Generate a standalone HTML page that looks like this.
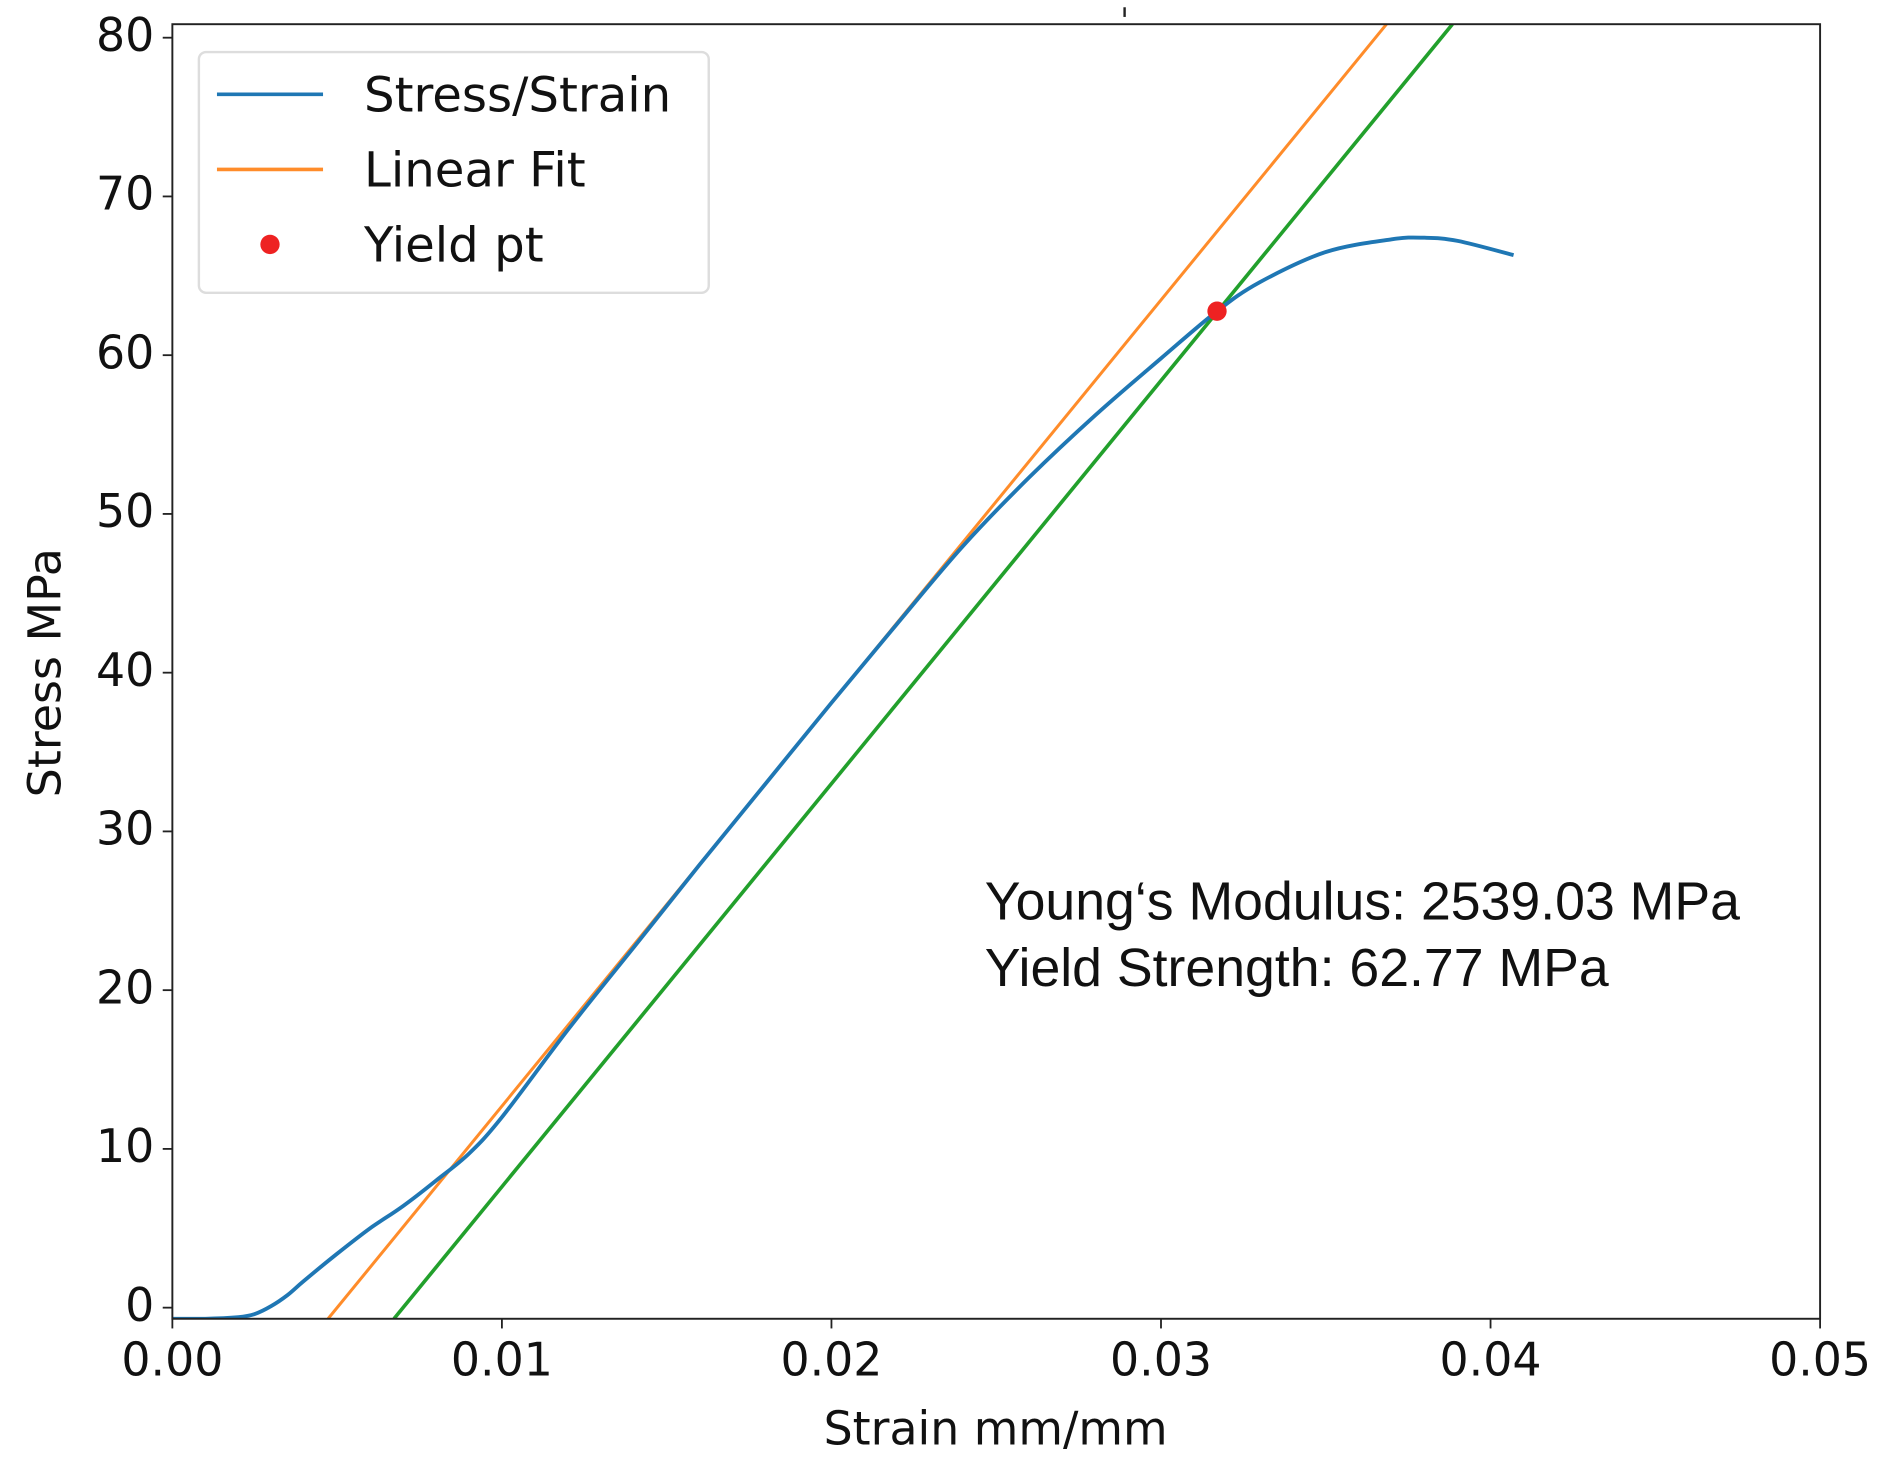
<!DOCTYPE html>
<html><head><meta charset="utf-8"><style>
html,body{margin:0;padding:0;background:#fff;}
svg{display:block;}
text{font-family:"DejaVu Sans","Liberation Sans",sans-serif;fill:#111;}
</style></head><body>
<svg id="chart" width="1890" height="1470" viewBox="0 0 1568 1215" preserveAspectRatio="none" xmlns="http://www.w3.org/2000/svg">
<g id="plot"></g>
</svg>
<script>
const strain = [0,0.001,0.002,0.0025,0.003,0.0035,0.004,0.005,0.006,0.007,0.008,0.009,0.010,0.012,0.014,0.016,0.018,0.020,0.022,0.024,0.026,0.028,0.030,0.0317,0.033,0.035,0.037,0.038,0.039,0.0407];
const stress = [-0.7,-0.7,-0.6,-0.4,0.1,0.8,1.7,3.4,5.0,6.4,8.0,9.7,12.0,17.5,22.7,27.9,33.0,38.1,43.1,48.0,52.3,56.2,59.8,62.77,64.6,66.5,67.3,67.4,67.2,66.3];
const modulus = [2539.03];
const fitOffset = [0.005];
const yieldOffset = [0.007];
const yieldPt = [0.0317, 62.77];
const xTicks = [0,0.01,0.02,0.03,0.04,0.05];
const xTickLabels = ["0.00","0.01","0.02","0.03","0.04","0.05"];
const yTicks = [0,10,20,30,40,50,60,70,80];
const yTickLabels = ["0","10","20","30","40","50","60","70","80"];

const L=143,R=1510,T=20,B=1090, XMIN=0,XMAX=0.05,YMIN=-0.7,YMAX=80.85;
const sx=v=>L+(v-XMIN)/(XMAX-XMIN)*(R-L);
const sy=v=>B-(v-YMIN)/(YMAX-YMIN)*(B-T);
const NS="http://www.w3.org/2000/svg";
const g=document.getElementById('plot');
function mk(tag,attrs,parent){const e=document.createElementNS(NS,tag);for(const k in attrs)e.setAttribute(k,attrs[k]);(parent||g).appendChild(e);return e;}

const defs=mk('defs',{});
const cp=mk('clipPath',{id:'clip'},defs);
mk('rect',{x:L,y:T,width:R-L,height:B-T},cp);
const data=mk('g',{'clip-path':'url(#clip)'});



function lineFor(off){const s=YMIN,e=YMAX;return {x1:sx(off+s/modulus[0]),y1:sy(s),x2:sx(off+e/modulus[0]),y2:sy(e)};}
const fl=lineFor(fitOffset[0]);
const fit=mk('line',Object.assign({stroke:'#ff8c2a','stroke-width':2.5},fl),data);


const gl=lineFor(yieldOffset[0]);
const off=mk('line',Object.assign({stroke:'#22a02c','stroke-width':3},gl),data);



const P=strain.map((v,i)=>[sx(v),sy(stress[i])]);
let d='M'+P[0][0].toFixed(1)+' '+P[0][1].toFixed(1);
for(let i=0;i<P.length-1;i++){
  const p0=P[Math.max(0,i-1)],p1=P[i],p2=P[i+1],p3=P[Math.min(P.length-1,i+2)];
  const c1=[p1[0]+(p2[0]-p0[0])/6,p1[1]+(p2[1]-p0[1])/6];
  const c2=[p2[0]-(p3[0]-p1[0])/6,p2[1]-(p3[1]-p1[1])/6];
  d+=' C'+c1.map(v=>v.toFixed(1)).join(' ')+' '+c2.map(v=>v.toFixed(1)).join(' ')+' '+p2.map(v=>v.toFixed(1)).join(' ');
}
const curve=mk('path',{d:d,fill:'none',stroke:'#1f77b4','stroke-width':3.2,'stroke-linejoin':'round'},data);



const yp=mk('circle',{cx:sx(yieldPt[0]),cy:sy(yieldPt[1]),r:8,fill:'#ee2222'});



const frame=mk('rect',{x:L,y:T,width:R-L,height:B-T,fill:'none',stroke:'#222','stroke-width':1.6});


const stray=mk('line',{x1:933,y1:6,x2:933,y2:14,stroke:'#222','stroke-width':2});



xTicks.forEach((v,i)=>{
  const t=mk('line',{x1:sx(v),y1:B,x2:sx(v),y2:B+8,stroke:'#222','stroke-width':1.5});
  
  
  const tx=mk('text',{x:sx(v),y:B+47,'text-anchor':'middle','font-size':38});
  tx.textContent=xTickLabels[i];
  
  
});
yTicks.forEach((v,i)=>{
  const t=mk('line',{x1:L-8,y1:sy(v),x2:L,y2:sy(v),stroke:'#222','stroke-width':1.5});
  
  
  const tx=mk('text',{x:L-15,y:sy(v)+11,'text-anchor':'end','font-size':38});
  tx.textContent=yTickLabels[i];
  
  
});
const xl=mk('text',{x:826,y:1194,'text-anchor':'middle','font-size':38});
xl.textContent='Strain mm/mm';


const yl=mk('text',{x:0,y:0,'text-anchor':'middle','font-size':38,transform:'translate(50,556) rotate(-90)'});
yl.textContent='Stress MPa';



const lg=mk('g',{});


mk('rect',{x:165,y:43,width:423,height:199,rx:6,fill:'#fff',stroke:'#ddd','stroke-width':2},lg);
const items=[['Stress/Strain','#1f77b4','line'],['Linear Fit','#ff8c2a','line'],['Yield pt','#ee2222','dot']];
items.forEach((it,i)=>{
  const y=78+i*62;
  if(it[2]==='line'){const m=mk('line',{x1:180,y1:y,x2:268,y2:y,stroke:it[1],'stroke-width':3},lg);}
  else {const m=mk('circle',{cx:224,cy:y,r:8,fill:it[1]},lg);}
  const t=mk('text',{x:302,y:y+14,'font-size':40},lg);t.textContent=it[0];
  
  
});

const a1=mk('text',{x:817,y:760,'font-size':44.5,style:'font-family:"Liberation Sans",sans-serif'});
a1.textContent='Young\u2018s Modulus: '+modulus[0].toFixed(2)+' MPa';


const a2=mk('text',{x:817,y:815,'font-size':44.5,style:'font-family:"Liberation Sans",sans-serif'});
a2.textContent='Yield Strength: '+yieldPt[1].toFixed(2)+' MPa';


</script>
</body></html>
